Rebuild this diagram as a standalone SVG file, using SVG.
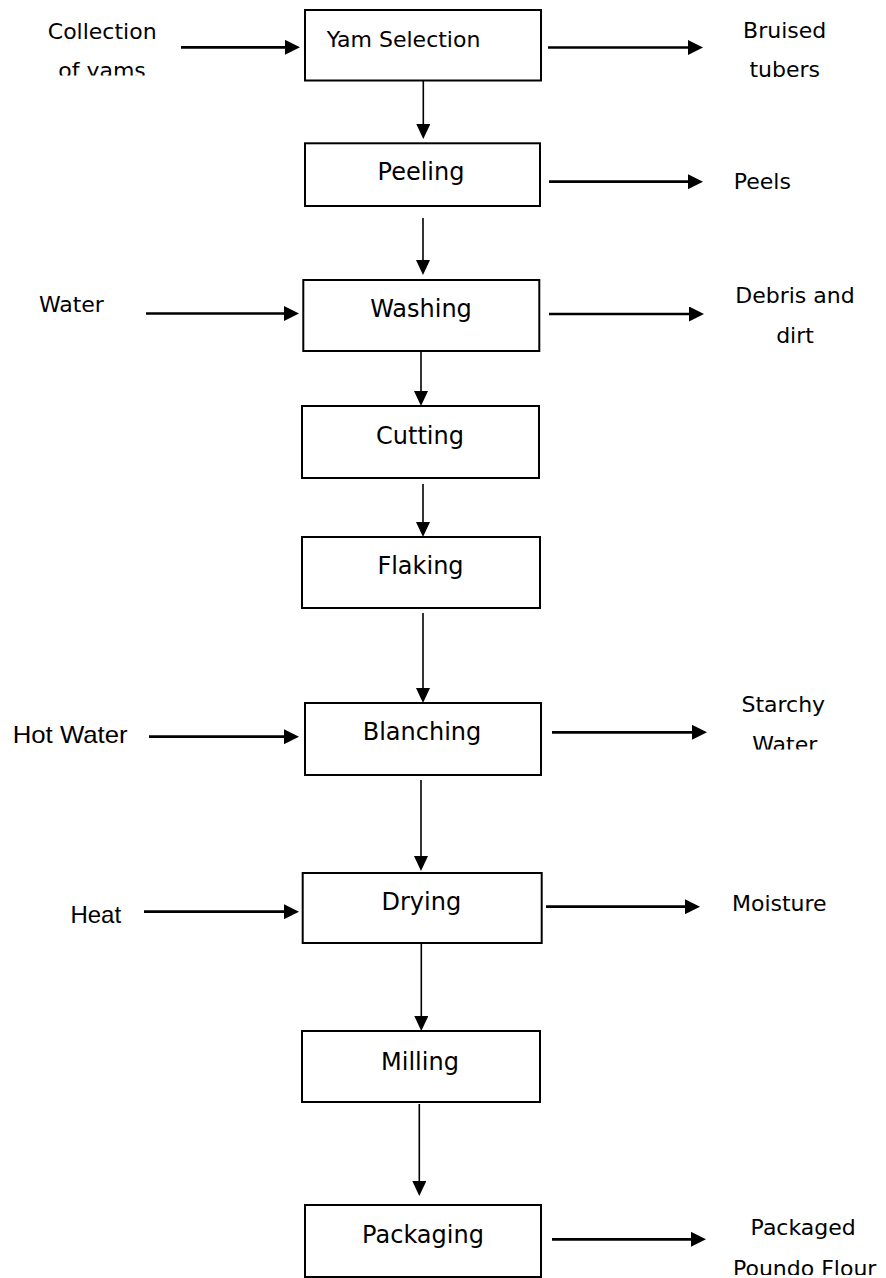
<svg xmlns="http://www.w3.org/2000/svg" width="886" height="1278" viewBox="0 0 886 1278">
<style>
.box{fill:#fff;stroke:#000;stroke-width:2}
.bt{font-family:"DejaVu Sans",Verdana,sans-serif;font-size:24px;fill:#000;text-anchor:middle}
.lb{font-family:"DejaVu Sans",Verdana,sans-serif;font-size:22px;fill:#000;text-anchor:middle}
.ar{font-family:"Liberation Sans",Arial,sans-serif;font-size:24px;fill:#000;text-anchor:middle}
.thick{stroke:#000;stroke-width:2.7;fill:none;marker-end:url(#hb)}
.thin{stroke:#000;stroke-width:1.6;fill:none;marker-end:url(#hs)}
</style>
<defs>
<marker id="hb" markerUnits="userSpaceOnUse" viewBox="0 0 15 15" refX="7" refY="7.5" markerWidth="15" markerHeight="15" orient="auto"><path d="M0,0 L15,7.5 L0,15 z" fill="#000"/></marker>
<marker id="hs" markerUnits="userSpaceOnUse" viewBox="0 0 15 14" refX="7" refY="7" markerWidth="15" markerHeight="14" orient="auto"><path d="M0,0 L15,7 L0,14 z" fill="#000"/></marker>
<clipPath id="c1"><rect x="0" y="0" width="300" height="75.5"/></clipPath>
<clipPath id="c2"><rect x="700" y="720" width="186" height="29.5"/></clipPath>
<clipPath id="c3"><rect x="700" y="1250" width="186" height="25"/></clipPath>
</defs>
<rect width="886" height="1278" fill="#fff"/>
<g id="connectors">
<line class="thick" x1="181" y1="47.3" x2="292" y2="47.3"/>
<line class="thick" x1="548" y1="47.5" x2="695" y2="47.5"/>
<line class="thick" x1="549" y1="181.7" x2="695" y2="181.7"/>
<line class="thick" x1="146" y1="313.5" x2="291" y2="313.5"/>
<line class="thick" x1="549" y1="314" x2="696" y2="314"/>
<line class="thick" x1="149" y1="736.7" x2="291" y2="736.7"/>
<line class="thick" x1="552" y1="732.3" x2="699" y2="732.3"/>
<line class="thick" x1="144" y1="911.7" x2="291" y2="911.7"/>
<line class="thick" x1="546" y1="906.7" x2="692" y2="906.7"/>
<line class="thick" x1="552" y1="1239.3" x2="698" y2="1239.3"/>
<line class="thin" x1="423.3" y1="81" x2="423.3" y2="131"/>
<line class="thin" x1="423" y1="218" x2="423" y2="267"/>
<line class="thin" x1="421" y1="352" x2="421" y2="398"/>
<line class="thin" x1="423" y1="484" x2="423" y2="529"/>
<line class="thin" x1="423" y1="613" x2="423" y2="695"/>
<line class="thin" x1="421" y1="780" x2="421" y2="863"/>
<line class="thin" x1="421.3" y1="940" x2="421.3" y2="1023"/>
<line class="thin" x1="419.3" y1="1104" x2="419.3" y2="1188"/>
</g>
<g id="yam-selection"><rect class="box" x="305" y="10" width="236" height="70.5"/><text x="326.7" y="46.7" style="font-family:'DejaVu Sans',Verdana,sans-serif;font-size:22px">Yam Selection</text></g>
<g id="peeling"><rect class="box" x="305" y="143.3" width="235" height="62.7"/><text class="bt" x="421" y="180">Peeling</text></g>
<g id="washing"><rect class="box" x="303.3" y="280" width="236" height="71"/><text class="bt" x="421" y="316.7">Washing</text></g>
<g id="cutting"><rect class="box" x="302" y="406" width="237" height="72"/><text class="bt" x="420" y="444">Cutting</text></g>
<g id="flaking"><rect class="box" x="302" y="537" width="238" height="71"/><text class="bt" x="420.5" y="574">Flaking</text></g>
<g id="blanching"><rect class="box" x="305" y="703" width="236" height="72"/><text class="bt" x="422" y="740">Blanching</text></g>
<g id="drying"><rect class="box" x="302.7" y="873" width="239" height="70"/><text class="bt" x="421.3" y="910">Drying</text></g>
<g id="milling"><rect class="box" x="302" y="1031" width="238" height="71"/><text class="bt" x="420" y="1070">Milling</text></g>
<g id="packaging"><rect class="box" x="305" y="1205" width="236" height="72"/><text class="bt" x="423" y="1242.7">Packaging</text></g>
<g id="collection-of-yams"><text class="lb" x="102.2" y="39">Collection</text><text class="lb" x="102" y="78" clip-path="url(#c1)">of yams</text></g>
<g id="bruised-tubers"><text class="lb" x="784.7" y="37.7">Bruised</text><text class="lb" x="784.7" y="76.7">tubers</text></g>
<g id="peels"><text class="lb" x="762.3" y="189">Peels</text></g>
<g id="water"><text class="lb" x="71.4" y="311.7">Water</text></g>
<g id="debris-and-dirt"><text class="lb" x="795" y="303.3">Debris and</text><text class="lb" x="795" y="342.7">dirt</text></g>
<g id="hot-water"><text class="ar" x="70.2" y="742.7" textLength="115" lengthAdjust="spacingAndGlyphs">Hot Water</text></g>
<g id="starchy-water"><text class="lb" x="783.3" y="712.3">Starchy</text><text class="lb" x="784.8" y="751.5" clip-path="url(#c2)">Water</text></g>
<g id="heat"><text class="ar" x="95.8" y="923">Heat</text></g>
<g id="moisture"><text class="lb" x="779.3" y="910.7">Moisture</text></g>
<g id="packaged-poundo-flour"><text class="lb" x="803.2" y="1235">Packaged</text><text class="lb" x="804.7" y="1276" clip-path="url(#c3)">Poundo Flour</text></g>
</svg>
